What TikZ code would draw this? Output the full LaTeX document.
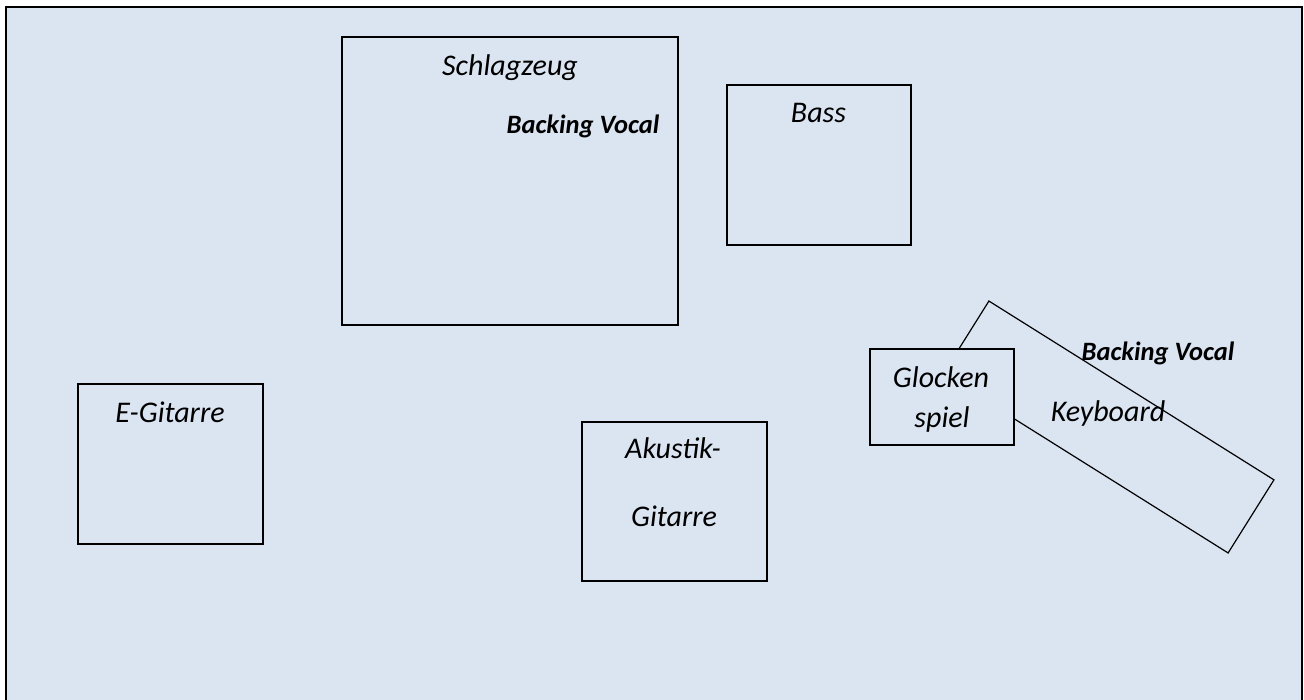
\documentclass[tikz,border=0pt]{standalone}
\usepackage{fontspec}
\setmainfont{Carlito}
\usepackage{xcolor}
\definecolor{stagebg}{HTML}{DBE5F1}

\tikzset{
  stagebox/.style={draw=black, fill=stagebg, line width=1.2pt, inner sep=0pt},
  instr/.style={anchor=base, inner sep=0pt, font=\itshape\fontsize{30}{36}\selectfont},
  vocal/.style={anchor=base, inner sep=0pt, font=\bfseries\itshape\fontsize{26.5}{32}\selectfont}
}

\begin{document}
\begin{tikzpicture}[x=1pt, y=-1pt]
      \useasboundingbox (0,0) rectangle (1304,700);
      % Stage
      \fill[stagebg] (6,7) rectangle (1302,700);
      \draw[line width=2.2pt] (6,700) -- (6,7) -- (1302,7) -- (1302,700);
      % Boxes
      \node[stagebox, minimum width=336pt, minimum height=288pt] (drums) at (510,181) {};
      \node[stagebox, minimum width=184pt, minimum height=160pt] (bass) at (819,165) {};
      \node[stagebox, minimum width=185pt, minimum height=160pt] (egit) at (170.5,464) {};
      \node[stagebox, minimum width=185pt, minimum height=159pt] (akgit) at (674.5,501.5) {};
      \node[stagebox, rotate=-32.1, minimum width=336.5pt, minimum height=86.3pt] (keys) at (1108.5,427) {};
      \node[stagebox, minimum width=144pt, minimum height=96pt] (glock) at (942,397) {};
      % Labels
      \node[instr] (drumslbl) at (510,76) {Schlagzeug};
      \node[vocal] (drumsvoc) at (583,134) {Backing Vocal};
      \node[instr] (basslbl) at (818.5,123) {Bass};
      \node[instr] (egitlbl) at (170,423) {E-Gitarre};
      \node[instr] (akgitlbla) at (673,458) {Akustik-};
      \node[instr] (akgitlblb) at (674,526) {Gitarre};
      \node[instr] (glocklbla) at (941,388) {Glocken};
      \node[instr] (glocklblb) at (942,428) {spiel};
      \node[vocal] (keysvoc) at (1158,361) {Backing Vocal};
      \node[instr] (keyslbl) at (1108,421) {Keyboard};
    \end{tikzpicture}
\end{document}
